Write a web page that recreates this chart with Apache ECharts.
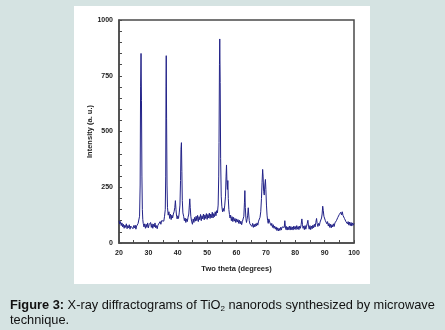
<!DOCTYPE html>
<html>
<head>
<meta charset="utf-8">
<script src="https://cdn.jsdelivr.net/npm/echarts@6/dist/echarts.min.js"></script>
<style>
html,body{margin:0;padding:0;background:#d5e3e2;}
#chart{width:445px;height:330px;}
</style>
</head>
<body>
<div id="chart"></div>
<script>
var twoTheta = [20.00,20.25,20.50,20.75,21.00,21.25,21.50,21.75,22.00,22.25,22.50,22.75,23.00,23.25,23.50,23.75,24.00,24.25,24.50,24.75,25.00,25.25,25.50,25.75,26.00,26.25,26.50,26.75,27.00,27.20,27.35,27.50,27.65,27.80,27.95,28.10,28.25,28.50,28.75,29.00,29.25,29.50,29.75,30.00,30.25,30.50,30.75,31.00,31.25,31.50,31.75,32.00,32.25,32.50,32.75,33.00,33.25,33.50,33.75,34.00,34.25,34.50,34.75,35.00,35.25,35.50,35.75,35.90,36.00,36.08,36.20,36.35,36.50,36.75,37.00,37.25,37.50,37.75,38.00,38.25,38.50,38.75,39.00,39.20,39.40,39.60,39.80,40.00,40.25,40.50,40.75,40.95,41.10,41.25,41.40,41.55,41.75,42.00,42.25,42.50,42.75,43.00,43.25,43.50,43.75,43.95,44.10,44.25,44.45,44.70,45.00,45.25,45.50,45.75,46.00,46.25,46.50,46.75,47.00,47.25,47.50,47.75,48.00,48.25,48.50,48.75,49.00,49.25,49.50,49.75,50.00,50.25,50.50,50.75,51.00,51.25,51.50,51.75,52.00,52.25,52.50,52.75,53.00,53.25,53.50,53.75,53.95,54.05,54.20,54.30,54.45,54.60,54.80,55.00,55.25,55.50,55.75,56.00,56.25,56.45,56.60,56.75,56.90,57.05,57.20,57.40,57.60,57.80,58.00,58.25,58.50,58.75,59.00,59.25,59.50,59.75,60.00,60.25,60.50,60.75,61.00,61.25,61.50,61.75,62.00,62.25,62.50,62.70,62.85,63.00,63.20,63.40,63.60,63.80,64.00,64.15,64.35,64.55,64.75,65.00,65.25,65.50,65.75,66.00,66.25,66.50,66.75,67.00,67.25,67.50,67.75,68.00,68.25,68.50,68.70,68.90,69.05,69.25,69.45,69.65,69.85,70.00,70.20,70.40,70.60,70.80,71.00,71.20,71.40,71.60,71.80,72.00,72.25,72.50,72.75,73.00,73.25,73.50,73.75,74.00,74.25,74.50,74.75,75.00,75.25,75.50,75.75,76.00,76.25,76.45,76.65,76.85,77.00,77.25,77.50,77.75,78.00,78.25,78.50,78.75,79.00,79.25,79.50,79.75,80.00,80.25,80.50,80.75,81.00,81.25,81.50,81.75,82.00,82.25,82.45,82.65,82.90,83.10,83.35,83.60,83.85,84.10,84.30,84.50,84.75,85.00,85.25,85.50,85.75,86.00,86.25,86.50,86.75,87.00,87.25,87.45,87.70,87.95,88.20,88.45,88.70,88.95,89.15,89.35,89.55,89.75,90.00,90.25,90.50,90.75,91.00,91.25,91.50,91.75,92.00,92.25,92.50,92.75,93.00,93.25,93.50,93.75,94.00,94.25,94.50,94.75,95.00,95.25,95.50,95.75,96.00,96.25,96.50,96.75,97.00,97.25,97.50,97.75,98.00,98.25,98.50,98.75,99.00,99.25,99.50,99.75,100.00];
var intensity = [100,85,96,78,90,72,84,66,80,70,86,64,78,68,82,62,76,70,84,64,78,68,80,62,76,72,88,95,120,260,700,850,640,300,150,105,88,72,86,66,84,70,90,68,82,74,92,70,86,66,84,72,90,68,78,64,80,88,78,96,84,100,92,108,98,120,150,300,700,840,560,260,160,125,140,110,130,105,125,112,130,140,160,190,150,120,108,122,110,135,170,280,420,450,320,190,135,120,100,112,92,108,96,115,130,170,198,160,120,98,84,108,92,115,98,120,100,124,96,118,104,128,100,122,108,130,104,126,110,132,106,128,112,134,110,130,114,138,112,132,118,140,122,145,135,170,300,450,800,915,720,380,210,165,140,155,142,170,210,300,350,270,240,280,200,150,128,112,125,100,118,96,115,98,110,92,108,94,105,88,102,86,98,82,96,90,120,180,235,160,110,92,105,125,158,130,100,86,78,92,74,88,70,84,72,86,76,90,80,98,92,115,140,200,270,330,300,230,215,260,285,240,170,125,100,88,108,115,90,98,78,88,70,82,66,76,62,72,56,68,54,66,56,70,58,72,64,78,70,100,72,60,74,58,72,60,76,58,74,60,72,58,76,62,74,60,78,62,74,60,76,66,82,108,84,66,76,60,78,62,76,88,102,76,62,78,60,76,64,80,68,84,72,92,110,88,74,88,78,94,88,112,130,165,145,120,125,100,108,86,96,76,88,70,84,68,82,72,86,74,90,84,100,96,115,112,128,122,138,126,140,124,132,110,116,96,104,86,96,80,94,78,92,76,90,80,88];
var xTicks = [20,30,40,50,60,70,80,90,100];
var yTicks = [0,250,500,750,1000];
var xTitle = 'Two theta (degrees)';
var yTitle = 'Intensity (a. u.)';

var chart = echarts.init(document.getElementById('chart'), null, {renderer:'canvas'});
var pts = twoTheta.map(function(x,i){return [x, intensity[i]];});
var axisCol = '#4a4a4a';
var labelFont = {fontFamily:'Liberation Sans', fontSize:7, fontWeight:'bold', color:'#222'};
chart.setOption({
  backgroundColor:'#d5e3e2',
  animation:false,
  graphic:[
    {type:'rect', left:74, top:6, shape:{width:296, height:278}, style:{fill:'#ffffff'}, z:-10},
    {type:'text', left:10, top:298, style:{
      text:'{b|Figure 3:} X-ray diffractograms of TiO{s|2} nanorods synthesized by microwave\ntechnique.',
      font:'12.8px "Liberation Sans"', fill:'#111', lineHeight:15,
      rich:{b:{fontWeight:'bold', fontSize:12.8, fontFamily:'Liberation Sans', fill:'#111'}, s:{fontSize:8, fontFamily:'Liberation Sans', verticalAlign:'bottom', padding:[6,0,0,0]}}
    }}
  ],
  grid:{left:119, right:91, top:20, bottom:87, show:true, borderColor:axisCol, borderWidth:1.5},
  xAxis:{type:'value', min:20, max:100, interval:5,
    axisLine:{lineStyle:{color:axisCol, width:1.5}},
    axisTick:{show:true, inside:true, length:3, lineStyle:{color:axisCol}},
    splitLine:{show:false},
    axisLabel:Object.assign({margin:7, formatter:function(v){return xTicks.indexOf(v)>=0 ? String(v) : '';}}, labelFont),
    name:xTitle, nameLocation:'middle', nameGap:22, nameMoveOverlap:false, nameTextStyle:Object.assign({}, labelFont, {fontSize:7.5})
  },
  yAxis:{type:'value', min:0, max:1000, interval:50,
    axisLine:{show:true, lineStyle:{color:axisCol, width:1.5}},
    axisTick:{show:true, inside:true, length:3, lineStyle:{color:axisCol}},
    splitLine:{show:false},
    axisLabel:Object.assign({margin:6, formatter:function(v){return yTicks.indexOf(v)>=0 ? String(v) : '';}}, labelFont),
    name:yTitle, nameLocation:'middle', nameGap:25, nameMoveOverlap:false, nameTextStyle:Object.assign({}, labelFont, {fontSize:7.5})
  },
  series:[{type:'line', data:pts, showSymbol:false, symbol:'none',
    lineStyle:{color:'#222288', width:1}}]
});
</script>
</body>
</html>
